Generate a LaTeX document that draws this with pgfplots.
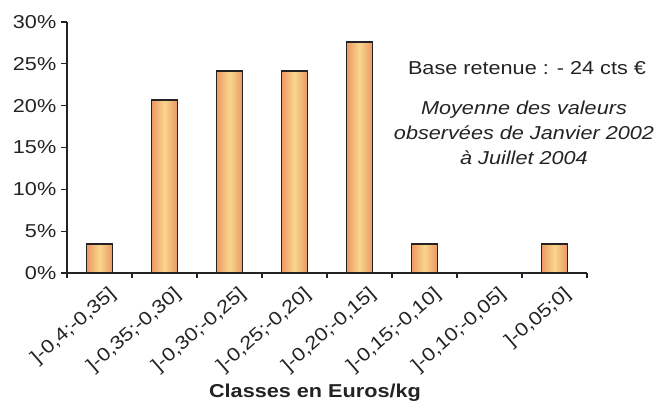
\documentclass[border=0pt]{standalone}
\usepackage{fontspec}
\setmainfont{Liberation Sans}[FakeStretch=1.16]
\usepackage{pgfplots}
\pgfplotsset{compat=1.18}
\definecolor{barEdge}{RGB}{236,152,100}
\definecolor{barMid}{RGB}{249,214,140}
\definecolor{axisGray}{RGB}{35,35,35}
\pgfplotsset{barstyle/.style={draw=axisGray, line width=1.4pt, fill=none, preaction={left color=barEdge, right color=barEdge, middle color=barMid, draw=none}, bar shift=0pt}}
\begin{document}
\begin{tikzpicture}[x=1pt,y=1pt]
\path[use as bounding box] (0,0) rectangle (498,302.25);
\begin{axis}[
  at={(50.25pt,97.5pt)}, anchor=south west,
  scale only axis, width=390pt, height=188.25pt,
  xmin=-0.5, xmax=7.5, ymin=0, ymax=30,
  axis lines=left,
  axis line style={-, draw=axisGray, line width=0.9pt},
  tick align=outside,
  ytick={0,5,...,30},
  yticklabel={\pgfmathprintnumber[assume math mode=true]{\tick}\%},
  major tick length=4.5pt,
  minor tick length=4pt,
  tick style={draw=axisGray, line width=0.9pt},
  xtick={0,...,7},
  major x tick style={draw=none},
  minor xtick={-0.5,0.5,...,7.5},
  xticklabels={{]-0,4;-0,35]},{]-0,35;-0,30]},{]-0,30;-0,25]},{]-0,25;-0,20]},{]-0,20;-0,15]},{]-0,15;-0,10]},{]-0,10;-0,05]},{]-0,05;0]}},
  xticklabel style={rotate=41, anchor=east, font=\fontsize{14}{16}\selectfont, text=axisGray, xshift=5pt, yshift=-14pt},
  yticklabel style={font=\fontsize{14}{16}\selectfont, text=axisGray},
  ybar, bar width=19.5pt,
  clip=false,
]
\addplot[barstyle] coordinates {(0,3.45)};
\addplot[barstyle] coordinates {(1,20.7)};
\addplot[barstyle] coordinates {(2,24.14)};
\addplot[barstyle] coordinates {(3,24.14)};
\addplot[barstyle] coordinates {(4,27.6)};
\addplot[barstyle] coordinates {(5,3.45)};
\addplot[barstyle] coordinates {(7,3.45)};
\end{axis}
\node[font=\fontsize{14}{16}\selectfont, text=axisGray] at (395.25,251.25) {Base retenue : - 24 cts €};
\node[font=\fontsize{14}{18.75}\selectfont\itshape, text=axisGray, align=center] at (393,202.5) {Moyenne des valeurs\\observées de Janvier 2002\\à Juillet 2004};
\node[font=\fontsize{14}{16}\selectfont\bfseries, text=axisGray] at (236.25,8) {Classes en Euros/kg};
\end{tikzpicture}
\end{document}
